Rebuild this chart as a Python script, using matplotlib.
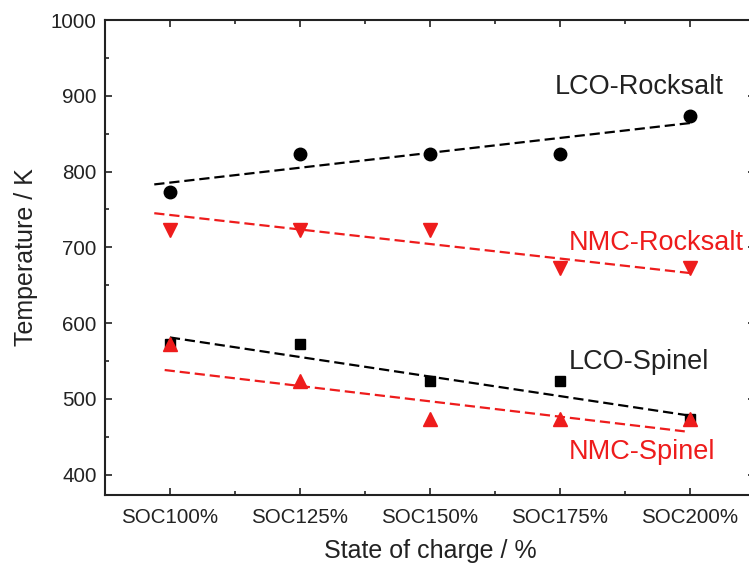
import matplotlib

matplotlib.use("Agg")
import matplotlib.pyplot as plt
from matplotlib.ticker import MultipleLocator

plt.rcParams["font.family"] = ["Liberation Sans", "DejaVu Sans"]

# Categories on the x axis
soc_labels = ["SOC100%", "SOC125%", "SOC150%", "SOC175%", "SOC200%"]

# Measured temperatures (K)
lco_rocksalt = [773, 823, 823, 823, 873]
nmc_rocksalt = [723, 723, 723, 673, 673]
lco_spinel = [573, 573, 523, 523, 473]
nmc_spinel = [573, 523, 473, 473, 473]

# Trend lines as drawn in the figure (end points, category index / K)
lco_rocksalt_fit_x = [-0.12, 4.0]
lco_rocksalt_fit_y = [783, 864]
nmc_rocksalt_fit_x = [-0.12, 4.0]
nmc_rocksalt_fit_y = [745, 666]
lco_spinel_fit_x = [0.0, 4.03]
lco_spinel_fit_y = [581, 477]
nmc_spinel_fit_x = [-0.04, 3.96]
nmc_spinel_fit_y = [538, 457]

RED = "#ee1c1c"
TXT = "#222222"
DASH = (0, (4.6, 2.2))

fig = plt.figure(figsize=(7.49, 5.64), dpi=100)
ax = fig.add_axes([0.140, 0.1223, 0.868, 0.8422])

x = list(range(len(soc_labels)))

# trend lines first, markers on top
ax.plot(lco_rocksalt_fit_x, lco_rocksalt_fit_y, color="black", lw=1.6, linestyle=DASH)
ax.plot(nmc_rocksalt_fit_x, nmc_rocksalt_fit_y, color=RED, lw=1.6, linestyle=DASH)
ax.plot(lco_spinel_fit_x, lco_spinel_fit_y, color="black", lw=1.6, linestyle=DASH)
ax.plot(nmc_spinel_fit_x, nmc_spinel_fit_y, color=RED, lw=1.6, linestyle=DASH)

ax.plot(x, lco_rocksalt, "o", color="black", ms=9, zorder=3)
ax.plot(x, nmc_rocksalt, "v", color=RED, ms=10, zorder=3)
ax.plot(x, lco_spinel, "s", color="black", ms=7.5, zorder=3)
ax.plot(x, nmc_spinel, "^", color=RED, ms=10, zorder=4)

ax.text(2.96, 912, "LCO-Rocksalt", fontsize=19.5, color=TXT, va="center", ha="left")
ax.text(3.07, 706, "NMC-Rocksalt", fontsize=19.5, color=RED, va="center", ha="left")
ax.text(3.07, 549, "LCO-Spinel", fontsize=19.5, color=TXT, va="center", ha="left")
ax.text(3.07, 430, "NMC-Spinel", fontsize=19.5, color=RED, va="center", ha="left")

ax.set_xlim(-0.5, 4.5)
ax.set_ylim(373, 1000)
ax.set_xticks(x)
ax.set_xticklabels(soc_labels)
ax.xaxis.set_minor_locator(MultipleLocator(0.5))
ax.yaxis.set_major_locator(MultipleLocator(100))
ax.yaxis.set_minor_locator(MultipleLocator(50))

ax.tick_params(which="both", direction="in", top=True, right=True, width=1.2,
               labelsize=14.8, labelcolor=TXT, color="#222222")
ax.tick_params(which="major", length=5)
ax.tick_params(axis="x", which="major", pad=9)
ax.tick_params(axis="y", which="major", pad=6)
ax.tick_params(which="minor", length=3)
for sp in ax.spines.values():
    sp.set_linewidth(1.5)
    sp.set_color("#222222")

ax.set_xlabel("State of charge / %", fontsize=18, labelpad=9, color=TXT)
ax.set_ylabel("Temperature / K", fontsize=18, labelpad=9, color=TXT)

plt.savefig("out.png", dpi=100)
plt.close()
